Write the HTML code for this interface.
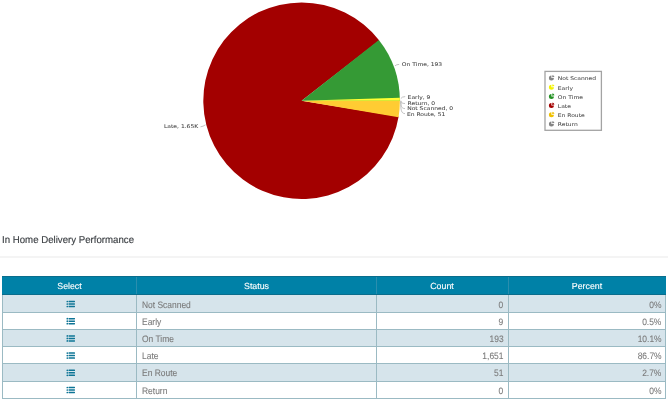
<!DOCTYPE html>
<html>
<head>
<meta charset="utf-8">
<style>
html,body{margin:0;padding:0;background:#fff;}
body{width:668px;height:400px;overflow:hidden;position:relative;will-change:transform;filter:blur(0.3px);text-rendering:geometricPrecision;font-family:"Liberation Sans",Arial,sans-serif;}
#chart{position:absolute;left:0;top:0;}
.lbl{font-family:"DejaVu Sans",Verdana,sans-serif;font-size:6px;fill:#404040;stroke:#404040;stroke-width:0.06;}
.lg{font-family:"DejaVu Sans",Verdana,sans-serif;font-size:6px;fill:#454545;stroke:#454545;stroke-width:0.05;}
#title{position:absolute;left:2px;top:234.9px;font-size:10px;color:#3a3e42;line-height:11px;white-space:nowrap;transform:scaleX(0.966);transform-origin:0 0;-webkit-text-stroke:0.15px #3a3e42;}
#sep{position:absolute;left:0;top:256px;width:668px;height:2px;background:#f4f4f4;}
#tbl{position:absolute;left:2px;top:276px;width:664px;height:123px;}
.hdr{position:absolute;left:0;top:0;width:664px;height:19px;background:#0081a7;border-top:1px solid #0a6d8c;border-bottom:1px solid #0a6d8c;box-sizing:border-box;}
.hdr div{position:absolute;top:0.9px;height:17px;line-height:17px;color:#fff;font-size:8.8px;text-align:center;-webkit-text-stroke:0.12px #fff;}
.row{position:absolute;left:0;width:664px;box-sizing:border-box;border-bottom:1px solid #9bbac3;border-left:1px solid #9bbac3;border-right:1px solid #9bbac3;}
.row.a{background:#d6e4eb;}
.row.b{background:#fff;}
.row div{position:absolute;top:0;height:100%;font-size:9.4px;color:#7a7a7a;display:flex;align-items:center;box-sizing:border-box;padding-top:1px;}
.row span{display:inline-block;transform:translateY(0px) scaleX(0.9);white-space:nowrap;-webkit-text-stroke:0.1px #7a7a7a;}
.r5 span{transform:translateY(-0.7px) scaleX(0.9) !important;}
.row span.l{transform-origin:0 50%;}
.row span.r{transform-origin:100% 50%;}
.ic{margin-top:0.6px;}
.vl{position:absolute;top:0;width:1px;height:100%;background:#9bbac3;}
.hvl{position:absolute;top:0;width:1px;height:100%;background:#2a8eae;}
.c1{left:0;width:135px;justify-content:center;}
.c2{left:139px;width:230px;}
.c3{left:374px;width:126.5px;justify-content:flex-end;}
.c4{left:506px;width:152.5px;justify-content:flex-end;}
</style>
</head>
<body>
<svg id="chart" width="668" height="230" viewBox="0 0 668 230">
  <path d="M301.6,100.7 L379.28,40.46 A98.3,98.3 0 1 0 398.62,116.49 Z" fill="#a30000"/>
  <path d="M301.6,100.7 L398.51,117.17 A98.3,98.3 0 0 0 399.90,100.01 Z" fill="#ffcc33"/>
  <path d="M301.6,100.7 L399.90,100.70 A98.3,98.3 0 0 0 378.86,39.92 Z" fill="#359a35"/>
  <path d="M301.6,100.7 L399.90,100.70 A98.3,98.3 0 0 0 399.86,97.78 Z" fill="#ffff33"/>
  <g fill="none" stroke="#b4b4b4" stroke-width="0.8">
    <path d="M394.9,65.9 Q396.5,64.4 399.2,64.4"/>
    <path d="M400.8,98.6 Q402,96.6 405.2,96.6"/>
    <path d="M400.8,100.6 C401.2,102.6 401.8,103.5 405,103.5"/>
    <path d="M400.9,101 C400.9,106 401.4,108.6 405,108.6"/>
    <path d="M400.7,101.5 C400.7,110 401.2,113.6 405,113.6"/>
    <path d="M205.5,124.8 Q203,126.6 200.5,126.8"/>
  </g>
  <text class="lbl" transform="translate(401.8,65.7) scale(1,0.85)">On Time, 193</text>
  <text class="lbl" transform="translate(407.6,99) scale(1,0.85)">Early, 9</text>
  <text class="lbl" transform="translate(407.6,104.9) scale(1,0.85)">Return, 0</text>
  <text class="lbl" transform="translate(407.2,110.4) scale(1,0.85)">Not Scanned, 0</text>
  <text class="lbl" transform="translate(406.9,115.8) scale(1,0.85)">En Route, 51</text>
  <text class="lbl" transform="translate(164,128.4) scale(1,0.85)">Late, 1.65K</text>
  <!-- legend -->
  <rect x="545" y="71.4" width="56.4" height="58.9" fill="#fff" stroke="#a3a3a3" stroke-width="1.3"/>
  <g>
    <g transform="translate(551.4,78.0)" fill="#858585"><path d="M0,0 L0,-2.5 A2.5,2.5 0 1 0 2.5,0 Z"/><path d="M0.7,-0.7 L3.05,-1.1 A2.4,2.4 0 0 0 1.1,-3.05 Z"/></g>
    <g transform="translate(551.4,87.2)" fill="#f2f200"><path d="M0,0 L0,-2.5 A2.5,2.5 0 1 0 2.5,0 Z"/><path d="M0.7,-0.7 L3.05,-1.1 A2.4,2.4 0 0 0 1.1,-3.05 Z"/></g>
    <g transform="translate(551.4,96.4)" fill="#239123"><path d="M0,0 L0,-2.5 A2.5,2.5 0 1 0 2.5,0 Z"/><path d="M0.7,-0.7 L3.05,-1.1 A2.4,2.4 0 0 0 1.1,-3.05 Z"/></g>
    <g transform="translate(551.4,105.6)" fill="#a30000"><path d="M0,0 L0,-2.5 A2.5,2.5 0 1 0 2.5,0 Z"/><path d="M0.7,-0.7 L3.05,-1.1 A2.4,2.4 0 0 0 1.1,-3.05 Z"/></g>
    <g transform="translate(551.4,114.8)" fill="#f0c000"><path d="M0,0 L0,-2.5 A2.5,2.5 0 1 0 2.5,0 Z"/><path d="M0.7,-0.7 L3.05,-1.1 A2.4,2.4 0 0 0 1.1,-3.05 Z"/></g>
    <g transform="translate(551.4,124.0)" fill="#858585"><path d="M0,0 L0,-2.5 A2.5,2.5 0 1 0 2.5,0 Z"/><path d="M0.7,-0.7 L3.05,-1.1 A2.4,2.4 0 0 0 1.1,-3.05 Z"/></g>
  </g>
  <text class="lg" transform="translate(557.8,80.4) scale(1,0.85)">Not Scanned</text>
  <text class="lg" transform="translate(557.8,89.6) scale(1,0.85)">Early</text>
  <text class="lg" transform="translate(557.8,98.8) scale(1,0.85)">On Time</text>
  <text class="lg" transform="translate(557.8,108.0) scale(1,0.85)">Late</text>
  <text class="lg" transform="translate(557.8,117.2) scale(1,0.85)">En Route</text>
  <text class="lg" transform="translate(557.8,126.4) scale(1,0.85)">Return</text>
</svg>

<div id="title">In Home Delivery Performance</div>
<div id="sep"></div>

<div id="tbl">
  <div class="hdr">
    <div style="left:0;width:135px"><span>Select</span></div>
    <div style="left:135px;width:239px"><span>Status</span></div>
    <div style="left:374px;width:132px"><span>Count</span></div>
    <div style="left:506px;width:158px"><span>Percent</span></div>
    <i class="hvl" style="left:134px"></i><i class="hvl" style="left:374px"></i><i class="hvl" style="left:506px"></i>
  </div>
  <div class="row a" style="top:19px;height:18px"><div class="c1"></div><div class="c2"><span class="l">Not Scanned</span></div><div class="c3"><span class="r">0</span></div><div class="c4"><span class="r">0%</span></div><i class="vl" style="left:133px"></i><i class="vl" style="left:373px"></i><i class="vl" style="left:505px"></i></div>
  <div class="row b" style="top:37px;height:17px"><div class="c1"></div><div class="c2"><span class="l">Early</span></div><div class="c3"><span class="r">9</span></div><div class="c4"><span class="r">0.5%</span></div><i class="vl" style="left:133px"></i><i class="vl" style="left:373px"></i><i class="vl" style="left:505px"></i></div>
  <div class="row a" style="top:54px;height:17px"><div class="c1"></div><div class="c2"><span class="l">On Time</span></div><div class="c3"><span class="r">193</span></div><div class="c4"><span class="r">10.1%</span></div><i class="vl" style="left:133px"></i><i class="vl" style="left:373px"></i><i class="vl" style="left:505px"></i></div>
  <div class="row b" style="top:71px;height:17px"><div class="c1"></div><div class="c2"><span class="l">Late</span></div><div class="c3"><span class="r">1,651</span></div><div class="c4"><span class="r">86.7%</span></div><i class="vl" style="left:133px"></i><i class="vl" style="left:373px"></i><i class="vl" style="left:505px"></i></div>
  <div class="row a r5" style="top:88px;height:18px"><div class="c1"></div><div class="c2"><span class="l">En Route</span></div><div class="c3"><span class="r">51</span></div><div class="c4"><span class="r">2.7%</span></div><i class="vl" style="left:133px"></i><i class="vl" style="left:373px"></i><i class="vl" style="left:505px"></i></div>
  <div class="row b" style="top:106px;height:17px"><div class="c1"></div><div class="c2"><span class="l">Return</span></div><div class="c3"><span class="r">0</span></div><div class="c4"><span class="r">0%</span></div><i class="vl" style="left:133px"></i><i class="vl" style="left:373px"></i><i class="vl" style="left:505px"></i></div>
</div>
<svg id="icons" width="668" height="400" viewBox="0 0 668 400" style="position:absolute;left:0;top:0;pointer-events:none"><g fill="#0e7596"><g transform="translate(0,300.8)"><circle cx="67.3" cy="0.70" r="0.85"/><rect x="68.5" y="-0.05" width="6.5" height="1.5" rx="0.4"/><circle cx="67.3" cy="3.20" r="0.85"/><rect x="68.5" y="2.45" width="6.5" height="1.5" rx="0.4"/><circle cx="67.3" cy="5.70" r="0.85"/><rect x="68.5" y="4.95" width="6.5" height="1.5" rx="0.4"/></g><g transform="translate(0,318.0)"><circle cx="67.3" cy="0.70" r="0.85"/><rect x="68.5" y="-0.05" width="6.5" height="1.5" rx="0.4"/><circle cx="67.3" cy="3.20" r="0.85"/><rect x="68.5" y="2.45" width="6.5" height="1.5" rx="0.4"/><circle cx="67.3" cy="5.70" r="0.85"/><rect x="68.5" y="4.95" width="6.5" height="1.5" rx="0.4"/></g><g transform="translate(0,335.2)"><circle cx="67.3" cy="0.70" r="0.85"/><rect x="68.5" y="-0.05" width="6.5" height="1.5" rx="0.4"/><circle cx="67.3" cy="3.20" r="0.85"/><rect x="68.5" y="2.45" width="6.5" height="1.5" rx="0.4"/><circle cx="67.3" cy="5.70" r="0.85"/><rect x="68.5" y="4.95" width="6.5" height="1.5" rx="0.4"/></g><g transform="translate(0,352.4)"><circle cx="67.3" cy="0.70" r="0.85"/><rect x="68.5" y="-0.05" width="6.5" height="1.5" rx="0.4"/><circle cx="67.3" cy="3.20" r="0.85"/><rect x="68.5" y="2.45" width="6.5" height="1.5" rx="0.4"/><circle cx="67.3" cy="5.70" r="0.85"/><rect x="68.5" y="4.95" width="6.5" height="1.5" rx="0.4"/></g><g transform="translate(0,369.6)"><circle cx="67.3" cy="0.70" r="0.85"/><rect x="68.5" y="-0.05" width="6.5" height="1.5" rx="0.4"/><circle cx="67.3" cy="3.20" r="0.85"/><rect x="68.5" y="2.45" width="6.5" height="1.5" rx="0.4"/><circle cx="67.3" cy="5.70" r="0.85"/><rect x="68.5" y="4.95" width="6.5" height="1.5" rx="0.4"/></g><g transform="translate(0,386.8)"><circle cx="67.3" cy="0.70" r="0.85"/><rect x="68.5" y="-0.05" width="6.5" height="1.5" rx="0.4"/><circle cx="67.3" cy="3.20" r="0.85"/><rect x="68.5" y="2.45" width="6.5" height="1.5" rx="0.4"/><circle cx="67.3" cy="5.70" r="0.85"/><rect x="68.5" y="4.95" width="6.5" height="1.5" rx="0.4"/></g></g></svg>
</body>
</html>
